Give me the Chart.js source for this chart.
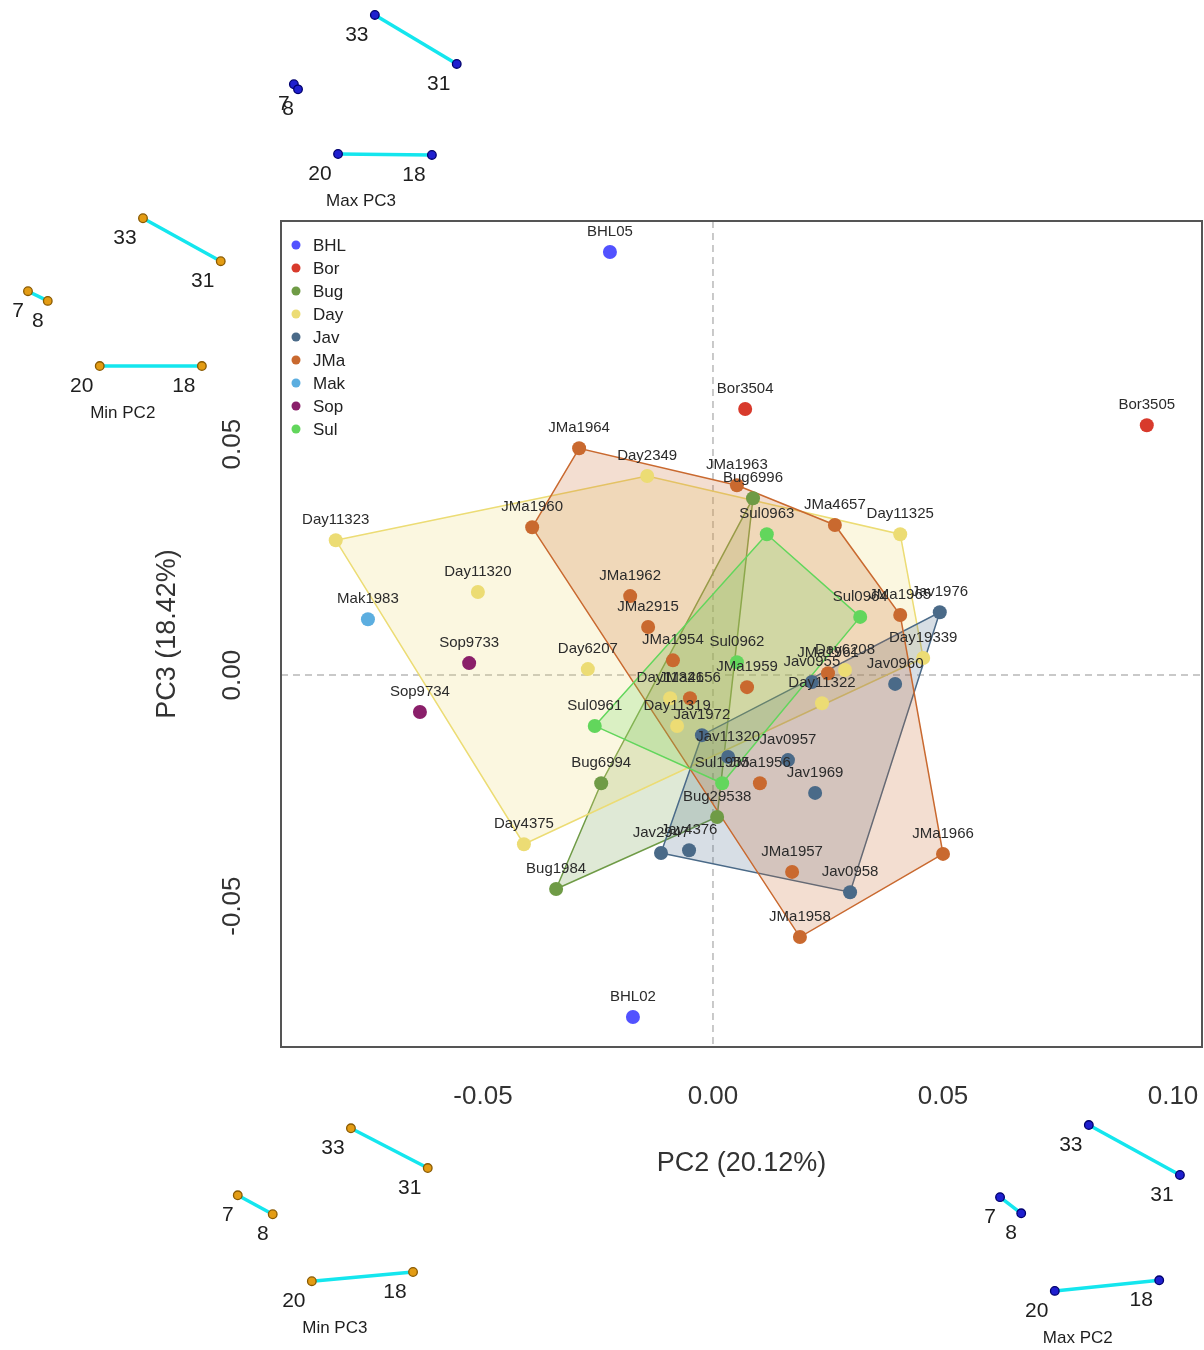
<!DOCTYPE html>
<html>
<head>
<meta charset="utf-8">
<title>PCA – PC2 vs PC3</title>
<script src="https://cdn.jsdelivr.net/npm/chart.js@4/dist/chart.umd.min.js"></script>
<style>
  html, body { margin: 0; padding: 0; background: #fff; }
  canvas { display: block; }
</style>
</head>
<body>
<canvas id="pca" width="1204" height="1350"></canvas>
<script>
// ---- data -------------------------------------------------------------
const groups = ['BHL', 'Bor', 'Bug', 'Day', 'Jav', 'JMa', 'Mak', 'Sop', 'Sul'];

const specimenNames = [
  'BHL05', 'BHL02',
  'Bor3504', 'Bor3505',
  'Bug6996', 'Bug6994', 'Bug1984', 'Bug29538',
  'Day11323', 'Day2349', 'Day11325', 'Day19339', 'Day11320', 'Day6207', 'Day4375',
  'Day11321', 'Day11319', 'Day11322', 'Day6208',
  'Jav1976', 'Jav0960', 'Jav0955', 'Jav1972', 'Jav11320', 'Jav0957', 'Jav1969',
  'Jav2947', 'Jav4376', 'Jav0958',
  'JMa1964', 'JMa1963', 'JMa1960', 'JMa4657', 'JMa1962', 'JMa2915', 'JMa1954',
  'JMa1959', 'JMa4656', 'JMa1961', 'JMa1965', 'JMa1956', 'JMa1966', 'JMa1957', 'JMa1958',
  'Mak1983',
  'Sop9733', 'Sop9734',
  'Sul0963', 'Sul0964', 'Sul0962', 'Sul0961', 'Sul1955'
];

const specimenGroup = [
  'BHL', 'BHL',
  'Bor', 'Bor',
  'Bug', 'Bug', 'Bug', 'Bug',
  'Day', 'Day', 'Day', 'Day', 'Day', 'Day', 'Day', 'Day', 'Day', 'Day', 'Day',
  'Jav', 'Jav', 'Jav', 'Jav', 'Jav', 'Jav', 'Jav', 'Jav', 'Jav', 'Jav',
  'JMa', 'JMa', 'JMa', 'JMa', 'JMa', 'JMa', 'JMa', 'JMa', 'JMa', 'JMa', 'JMa', 'JMa', 'JMa', 'JMa', 'JMa',
  'Mak',
  'Sop', 'Sop',
  'Sul', 'Sul', 'Sul', 'Sul', 'Sul'
];

const pc2 = [
  -0.0224, -0.0174,
   0.0070,  0.0943,
   0.0087, -0.0243, -0.0341,  0.0009,
  -0.0820, -0.0143,  0.0407,  0.0457, -0.0511, -0.0272, -0.0411, -0.0093, -0.0078,  0.0237,  0.0287,
   0.0493,  0.0396,  0.0215, -0.0024,  0.0033,  0.0163,  0.0222, -0.0113, -0.0052,  0.0298,
  -0.0291,  0.0052, -0.0393,  0.0265, -0.0180, -0.0141, -0.0087,  0.0074, -0.0050,  0.0250,
   0.0407,  0.0102,  0.0500,  0.0172,  0.0189,
  -0.0750,
  -0.0530, -0.0637,
   0.0117,  0.0320,  0.0052, -0.0257,  0.0020
];

const pc3 = [
   0.0916, -0.0740,
   0.0576,  0.0541,
   0.0383, -0.0234, -0.0463, -0.0307,
   0.0292,  0.0431,  0.0305,  0.0037,  0.0180,  0.0013, -0.0366, -0.0050, -0.0110, -0.0061,  0.0011,
   0.0136, -0.0019, -0.0015, -0.0130, -0.0177, -0.0184, -0.0255, -0.0385, -0.0379, -0.0470,
   0.0491,  0.0411,  0.0320,  0.0325,  0.0171,  0.0104,  0.0032, -0.0026, -0.0050,  0.0004,
   0.0130, -0.0234, -0.0387, -0.0426, -0.0567,
   0.0121,
   0.0026, -0.0080,
   0.0305,  0.0126,  0.0028, -0.0110, -0.0234
];

const xTicks = [-0.05, 0.00, 0.05, 0.10];
const yTicks = [-0.05, 0.00, 0.05];

// Landmark configurations at the extremes of each axis
// (landmarks 33-31, 7-8, 20-18), placed in PC2/PC3 units around the plot.
const landmarkIds = ['33', '31', '7', '8', '20', '18'];
const landmarkLinks = [[0, 1], [2, 3], [4, 5]];
const shapeCaptions = ['Max PC3', 'Min PC2', 'Min PC3', 'Max PC2'];
const shapeX = [
  [-0.0735, -0.0557, -0.0911, -0.0902, -0.0815, -0.0611],
  [-0.1239, -0.1070, -0.1489, -0.1446, -0.1333, -0.1111],
  [-0.0787, -0.0620, -0.1033, -0.0957, -0.0872, -0.0652],
  [ 0.0817,  0.1015,  0.0624,  0.0670,  0.0743,  0.0970]
];
const shapeY = [
  [ 0.1429,  0.1323,  0.1279,  0.1268,  0.1128,  0.1126],
  [ 0.0989,  0.0896,  0.0831,  0.0810,  0.0669,  0.0669],
  [-0.0981, -0.1067, -0.1126, -0.1167, -0.1312, -0.1292],
  [-0.0974, -0.1082, -0.1130, -0.1165, -0.1333, -0.1310]
];

// ---- styles -----------------------------------------------------------
const FONT = '"Liberation Sans", Arial, Helvetica, sans-serif';
const groupColors = ['#5252ff', '#d83a2c', '#6f9b46', '#ecdc74', '#4a6a88',
                     '#c9692f', '#5caee0', '#8a1f6a', '#62d65c'];
const shapePointFill = ['#1f1fcf', '#e39c14', '#e39c14', '#1f1fcf'];
const shapePointEdge = ['#00006e', '#8a5a00', '#8a5a00', '#00006e'];

function rgba(hex, a) {
  const n = parseInt(hex.slice(1), 16);
  return `rgba(${(n >> 16) & 255},${(n >> 8) & 255},${n & 255},${a})`;
}

// Convex hull (monotone chain) of a group's scores
function convexHull(pts) {
  const p = pts.slice().sort((a, b) => a.x - b.x || a.y - b.y);
  const cross = (o, a, b) => (a.x - o.x) * (b.y - o.y) - (a.y - o.y) * (b.x - o.x);
  const lower = [];
  for (const q of p) {
    while (lower.length >= 2 && cross(lower[lower.length - 2], lower[lower.length - 1], q) <= 0) lower.pop();
    lower.push(q);
  }
  const upper = [];
  for (let i = p.length - 1; i >= 0; i--) {
    const q = p[i];
    while (upper.length >= 2 && cross(upper[upper.length - 2], upper[upper.length - 1], q) <= 0) upper.pop();
    upper.push(q);
  }
  upper.pop(); lower.pop();
  return lower.concat(upper);
}

// ---- datasets ---------------------------------------------------------
const datasets = [];

groups.forEach((g, gi) => {
  const idx = specimenGroup.map((s, i) => s === g ? i : -1).filter(i => i >= 0);
  const pts = idx.map(i => ({ x: pc2[i], y: pc3[i] }));
  // group points (drawn on top)
  datasets.push({
    type: 'scatter',
    label: g,
    data: pts,
    names: idx.map(i => specimenNames[i]),
    role: 'points',
    backgroundColor: groupColors[gi],
    borderWidth: 0,
    pointRadius: 7,
    pointHoverRadius: 7,
    order: 0
  });
  // group hulls
  if (pts.length >= 3) {
    const h = convexHull(pts);
    datasets.push({
      type: 'line',
      label: g + ' hull',
      data: h.concat([h[0]]),
      role: 'hull',
      borderColor: groupColors[gi],
      borderWidth: 1.5,
      backgroundColor: rgba(groupColors[gi], 0.22),
      fill: 'shape',
      pointRadius: 0,
      tension: 0,
      order: 100 - gi
    });
  }
});

shapeCaptions.forEach((cap, si) => {
  landmarkLinks.forEach(([a, b]) => {
    datasets.push({
      type: 'line',
      label: cap,
      data: [{ x: shapeX[si][a], y: shapeY[si][a] }, { x: shapeX[si][b], y: shapeY[si][b] }],
      ids: [landmarkIds[a], landmarkIds[b]],
      shapeIndex: si,
      role: 'shape',
      borderColor: '#14e6ee',
      borderWidth: 3.5,
      pointRadius: 0,
      fill: false,
      clip: false,
      order: 50
    });
  });
});

// ---- plugins ----------------------------------------------------------
const decorPlugin = {
  id: 'decor',
  beforeDatasetsDraw(chart) {
    const { ctx, chartArea: a, scales: { x, y } } = chart;
    ctx.save();
    ctx.strokeStyle = '#b8b8b8';
    ctx.lineWidth = 1.5;
    ctx.setLineDash([7, 5]);
    const x0 = x.getPixelForValue(0), y0 = y.getPixelForValue(0);
    ctx.beginPath();
    ctx.moveTo(x0, a.top); ctx.lineTo(x0, a.bottom);
    ctx.moveTo(a.left, y0); ctx.lineTo(a.right, y0);
    ctx.stroke();
    ctx.restore();
  },
  afterDatasetsDraw(chart) {
    const { ctx, chartArea: a, scales: { y } } = chart;
    ctx.save();
    // specimen labels
    ctx.font = `15px ${FONT}`;
    ctx.fillStyle = '#2b2b2b';
    ctx.textAlign = 'center';
    ctx.textBaseline = 'middle';
    chart.data.datasets.forEach((ds, di) => {
      if (ds.role !== 'points') return;
      chart.getDatasetMeta(di).data.forEach((el, i) => {
        ctx.fillText(ds.names[i], el.x, el.y - 20);
      });
    });
    // landmark markers, numbers and captions (outside the plotting area)
    chart.data.datasets.forEach((ds, di) => {
      if (ds.role !== 'shape') return;
      const els = chart.getDatasetMeta(di).data;
      els.forEach((el, i) => {
        ctx.beginPath();
        ctx.arc(el.x, el.y, 4.3, 0, Math.PI * 2);
        ctx.fillStyle = shapePointFill[ds.shapeIndex];
        ctx.fill();
        ctx.lineWidth = 1.3;
        ctx.strokeStyle = shapePointEdge[ds.shapeIndex];
        ctx.stroke();
        const id = ds.ids[i];
        const dx = (id === '7' || id === '8') ? -10 : -18;
        ctx.font = `21px ${FONT}`;
        ctx.fillStyle = '#1e1e1e';
        ctx.fillText(id, el.x + dx, el.y + 20);
      });
      if (ds.ids[0] === '20') {
        ctx.font = `17px ${FONT}`;
        ctx.fillStyle = '#1e1e1e';
        ctx.fillText(ds.label, els[0].x + 23, els[0].y + 47);
      }
    });
    // y tick labels, vertical
    ctx.font = `26px ${FONT}`;
    ctx.fillStyle = '#333';
    y.ticks.forEach(t => {
      ctx.save();
      ctx.translate(233, y.getPixelForValue(t.value));
      ctx.rotate(-Math.PI / 2);
      ctx.fillText(t.value.toFixed(2), 0, 0);
      ctx.restore();
    });
    // frame
    ctx.strokeStyle = '#555';
    ctx.lineWidth = 2;
    ctx.strokeRect(a.left, a.top, a.right - a.left, a.bottom - a.top);
    // legend
    ctx.textAlign = 'left';
    ctx.font = `17px ${FONT}`;
    groups.forEach((g, gi) => {
      const cy = a.top + 24 + gi * 23;
      ctx.fillStyle = groupColors[gi];
      ctx.beginPath();
      ctx.arc(a.left + 15, cy, 4.5, 0, Math.PI * 2);
      ctx.fill();
      ctx.fillStyle = '#222';
      ctx.fillText(g, a.left + 32, cy + 1);
    });
    ctx.restore();
  }
};

// ---- chart ------------------------------------------------------------
new Chart(document.getElementById('pca'), {
  type: 'scatter',
  data: { datasets },
  options: {
    responsive: false,
    animation: false,
    devicePixelRatio: 1,
    events: [],
    layout: { autoPadding: false, padding: { left: 151, top: 221, right: 2, bottom: 170 } },
    plugins: { legend: { display: false }, tooltip: { enabled: false } },
    scales: {
      x: {
        type: 'linear',
        min: -0.0939,
        max: 0.1063,
        afterBuildTicks: s => { s.ticks = xTicks.map(v => ({ value: v })); },
        afterFit: s => { s.height = 133; s.paddingLeft = 0; s.paddingRight = 0; },
        grid: { display: false, drawTicks: false },
        border: { display: false },
        ticks: {
          callback: v => v.toFixed(2),
          font: { size: 26, family: FONT },
          color: '#333',
          padding: 34,
          maxRotation: 0,
          autoSkip: false
        },
        title: {
          display: true,
          text: 'PC2 (20.12%)',
          font: { size: 27, family: FONT },
          color: '#333',
          padding: 0
        }
      },
      y: {
        type: 'linear',
        min: -0.0805,
        max: 0.0983,
        afterBuildTicks: s => { s.ticks = yTicks.map(v => ({ value: v })); },
        afterFit: s => { s.width = 130; s.paddingTop = 0; s.paddingBottom = 0; },
        grid: { display: false, drawTicks: false },
        border: { display: false },
        ticks: { display: false },
        title: {
          display: true,
          text: 'PC3 (18.42%)',
          font: { size: 27, family: FONT },
          color: '#333',
          padding: 0
        }
      }
    }
  },
  plugins: [decorPlugin]
});
</script>
</body>
</html>
